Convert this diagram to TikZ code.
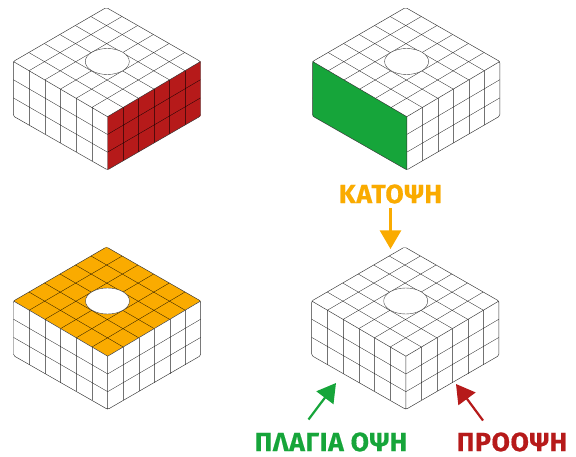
\documentclass[tikz,border=0pt]{standalone}
\usepackage{fontspec}
\setmainfont{Fira Sans}
\newfontfamily\viewfont{Fira Sans}[LetterSpace=2.5,BoldFeatures={FakeBold=0.4}]
\usetikzlibrary{calc,arrows.meta}
\definecolor{redc}{HTML}{B61A1A}
\definecolor{greenc}{HTML}{16A53A}
\definecolor{orangec}{HTML}{FAAB00}
\tikzset{
  gridline/.style={draw=black,draw opacity=0.85,line width=0.33pt},
  uprightline/.style={draw=black,draw opacity=0.55,line width=0.33pt},
  outline/.style={draw=black!80,line width=0.45pt,line join=round},
  hole/.style={draw=black!75,line width=0.4pt,fill=white},
  viewlabel/.style={font=\viewfont\bfseries\fontsize{26.5}{28}\selectfont,inner sep=0pt,anchor=center},
  viewarrow/.style={line width=2.2pt,-{Triangle[length=18.5pt,width=21pt]}},
}
% #1 x of left corner, #2 y of left corner, #3 top fill, #4 cover of left face, #5 right fill
\newcommand{\blockdraw}[5]{%
  \begin{scope}[shift={(#1,#2)}]
    \coordinate (L) at (0,0);
    \coordinate (R) at (187.2,0);
    \coordinate (F) at (94.2,55.2);
    \coordinate (A) at (93,-54);
    \coordinate (LB) at (0,54.6);
    \coordinate (RB) at (187.2,54.6);
    \coordinate (FB) at (94.2,108.4);
    \fill[#3] (A) -- (R) -- (F) -- (L) -- cycle;
    \fill[white] (L) -- (F) -- (FB) -- (LB) -- cycle;
    \fill[#5] (F) -- (R) -- (RB) -- (FB) -- cycle;
    \foreach \t in {1,...,5}{
      \draw[gridline] ($(L)!\t/6!(A)$) -- ($(F)!\t/6!(R)$);
      \draw[gridline] ($(L)!\t/6!(F)$) -- ($(A)!\t/6!(R)$);
      \draw[uprightline] ($(L)!\t/6!(F)$) -- ($(LB)!\t/6!(FB)$);
      \draw[uprightline] ($(F)!\t/6!(R)$) -- ($(FB)!\t/6!(RB)$);
    }
    \foreach \t in {1,2}{
      \draw[gridline] ($(L)!\t/3!(LB)$) -- ($(F)!\t/3!(FB)$) -- ($(R)!\t/3!(RB)$);
    }
    \fill[#4] (L) -- (F) -- (FB) -- (LB) -- cycle;
    \filldraw[hole] (94,0) ellipse [x radius=22,y radius=13];
    \draw[outline,rounded corners=1.5pt] (L) -- (A) -- (R) -- (RB) -- (FB) -- (LB) -- cycle;
    \draw[outline] (L) -- (F) -- (R) (F) -- (FB);
  \end{scope}%
}
\begin{document}
\begin{tikzpicture}[x=1pt,y=-1pt]
  \useasboundingbox (0,0) rectangle (576,457);
  \fill[white] (0,0) rectangle (576,457);
  \blockdraw{13.3}{61.5}{white}{white,opacity=0}{redc}
  \blockdraw{312.6}{61.5}{white}{greenc}{white}
  \blockdraw{13.5}{301}{orangec}{white,opacity=0}{white}
  \blockdraw{311.7}{301}{white}{white,opacity=0}{white}
  \node[viewlabel,text=orangec] (kato) at (390.5,194) {ΚΑΤΟΨΗ};
  \node[viewlabel,text=greenc] (plagia) at (331,442) {ΠΛΑΓΙΑ ΟΨΗ};
  \node[viewlabel,text=redc] (proopsi) at (512,442) {ΠΡΟΟΨΗ};
  \coordinate (katotip) at (390.5,249);
  \coordinate (katotail) at (390.5,208);
  \coordinate (plagiatip) at (336,383);
  \coordinate (plagiatail) at (308.5,419.5);
  \coordinate (prootip) at (456,384);
  \coordinate (prootail) at (483,420.5);
  \draw[viewarrow,draw=orangec,fill=orangec] (katotail) -- (katotip);
  \draw[viewarrow,draw=greenc,fill=greenc] (plagiatail) -- (plagiatip);
  \draw[viewarrow,draw=redc,fill=redc] (prootail) -- (prootip);
\end{tikzpicture}
\end{document}
